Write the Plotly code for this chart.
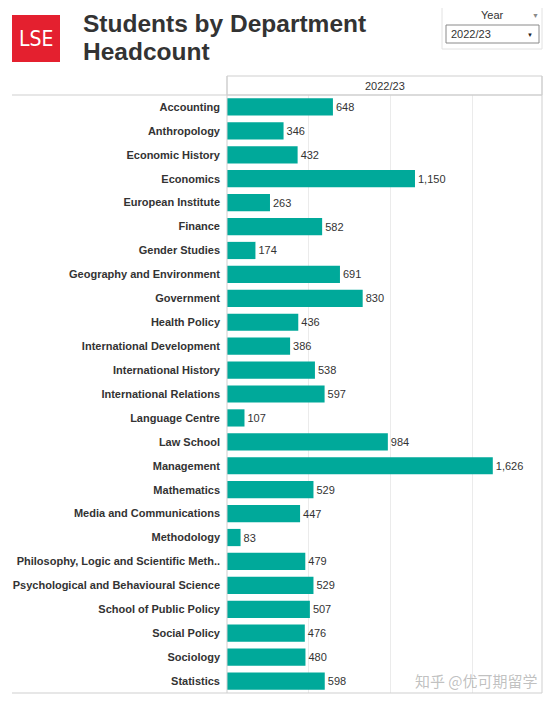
"""
LSE students by department headcount, 2022/23 - recreated in plotly.
"""

import plotly.graph_objects as go

# Data
departments = [
    "Accounting", "Anthropology", "Economic History", "Economics",
    "European Institute", "Finance", "Gender Studies",
    "Geography and Environment", "Government", "Health Policy",
    "International Development", "International History",
    "International Relations", "Language Centre", "Law School",
    "Management", "Mathematics", "Media and Communications",
    "Methodology", "Philosophy, Logic and Scientific Meth..",
    "Psychological and Behavioural Science", "School of Public Policy",
    "Social Policy", "Sociology", "Statistics",
]
headcount = [
    648, 346, 432, 1150, 263, 582, 174, 691, 830, 436, 386, 538, 597,
    107, 984, 1626, 529, 447, 83, 479, 529, 507, 476, 480, 598,
]
year_label = "2022/23"

# Page geometry (pixels of the window); the html body adds an 8px margin
# on every side, so the figure itself is 16px smaller than the window
BODY = 8
W, H = 554 - 2 * BODY, 703 - 2 * BODY
PLOT_L, PLOT_R = 227 - BODY, 542 - BODY
PLOT_T, PLOT_B = 95 - BODY, 693 - BODY

colors = {
    'bar': '#00A99A',
    'text': '#333333',
    'grid': '#ebebeb',
    'rule': '#cfcfcf',
    'lse': '#E4202F',
}


def px_x(p):
    """Window pixel x -> paper x."""
    return (p - BODY - PLOT_L) / (PLOT_R - PLOT_L)


def px_y(p):
    """Window pixel y (from top) -> paper y."""
    return (PLOT_B - (p - BODY)) / (PLOT_B - PLOT_T)


fig = go.Figure(go.Bar(
    x=headcount,
    y=departments,
    orientation='h',
    marker=dict(color=colors['bar'], line=dict(width=0)),
    text=headcount,
    texttemplate="%{x:,}",
    textposition='outside',
    cliponaxis=False,
    textfont=dict(family="Liberation Sans, Arial", size=11, color=colors['text']),
    hoverinfo='skip',
))

fig.update_layout(
    width=W,
    height=H,
    margin=dict(l=PLOT_L, r=W - PLOT_R, t=PLOT_T, b=H - PLOT_B, pad=0),
    paper_bgcolor='white',
    plot_bgcolor='white',
    bargap=0.28,
    showlegend=False,
    font=dict(family="Liberation Sans, Arial", color=colors['text']),
)

fig.update_xaxes(
    range=[0, 1927],
    dtick=500,
    showgrid=True,
    gridcolor=colors['grid'],
    gridwidth=1,
    zeroline=False,
    showticklabels=False,
    showline=False,
    fixedrange=True,
)

fig.update_yaxes(
    autorange='reversed',
    showgrid=False,
    showline=False,
    ticks='',
    ticklabelstandoff=6,
    tickfont=dict(family="Liberation Sans, Arial", size=11,
                  color=colors['text'], weight='bold'),
    fixedrange=True,
)

rule = dict(color=colors['rule'], width=1)
shapes = [
    # header band box
    dict(type='rect', xref='paper', yref='paper',
         x0=0, x1=1, y0=px_y(95), y1=px_y(76), line=rule),
    # left and right edges of the panel
    dict(type='line', xref='paper', yref='paper',
         x0=0, x1=0, y0=0, y1=px_y(76), line=rule),
    dict(type='line', xref='paper', yref='paper',
         x0=1, x1=1, y0=0, y1=px_y(76), line=rule),
    # long rules across the label column
    dict(type='line', xref='paper', yref='paper',
         x0=px_x(12), x1=1, y0=1, y1=1, line=rule),
    dict(type='line', xref='paper', yref='paper',
         x0=px_x(12), x1=1, y0=0, y1=0, line=rule),
    # LSE logo
    dict(type='rect', xref='paper', yref='paper',
         x0=px_x(12), x1=px_x(60), y0=px_y(62), y1=px_y(15),
         fillcolor=colors['lse'], line=dict(width=0)),
    # year filter boxes
    dict(type='rect', xref='paper', yref='paper',
         x0=px_x(442), x1=px_x(542), y0=px_y(49), y1=px_y(7),
         line=dict(color='#e2e2e2', width=1)),
    dict(type='rect', xref='paper', yref='paper',
         x0=px_x(446), x1=px_x(539), y0=px_y(43), y1=px_y(25),
         line=dict(color='#8a8a8a', width=1)),
]

title_font = dict(family="Liberation Sans, Arial", size=24.5, color=colors['text'])
annotations = [
    dict(text="<b>Students by Department</b>",
         xref='paper', yref='paper', x=px_x(81), y=px_y(23),
         xanchor='left', yanchor='middle', showarrow=False, font=title_font),
    dict(text="<b>Headcount</b>",
         xref='paper', yref='paper', x=px_x(81), y=px_y(52),
         xanchor='left', yanchor='middle', showarrow=False, font=title_font),
    dict(text="LSE", xref='paper', yref='paper',
         x=px_x(36), y=px_y(39), xanchor='center', yanchor='middle',
         showarrow=False,
         font=dict(family="Liberation Sans Narrow, DejaVu Sans Condensed, Liberation Sans",
                   size=21, color='white')),
    dict(text=year_label, xref='paper', yref='paper',
         x=0.5, y=px_y(86), xanchor='center', yanchor='middle',
         showarrow=False,
         font=dict(family="Liberation Sans, Arial", size=11, color=colors['text'])),
    dict(text="Year", xref='paper', yref='paper',
         x=px_x(492), y=px_y(15), xanchor='center', yanchor='middle',
         showarrow=False,
         font=dict(family="Liberation Sans, Arial", size=11, color=colors['text'])),
    dict(text="▼", xref='paper', yref='paper',
         x=px_x(535), y=px_y(16), xanchor='center', yanchor='middle',
         showarrow=False, font=dict(size=7, color='#8a8a8a')),
    dict(text=year_label, xref='paper', yref='paper',
         x=px_x(449), y=px_y(34), xanchor='left', yanchor='middle',
         showarrow=False,
         font=dict(family="Liberation Sans, Arial", size=11, color=colors['text'])),
    dict(text="▼", xref='paper', yref='paper',
         x=px_x(530), y=px_y(35), xanchor='center', yanchor='middle',
         showarrow=False, font=dict(size=6, color='#222222')),
    # watermark
    dict(text="知乎 @优可期留学", xref='paper', yref='paper',
         x=px_x(540), y=px_y(680), xanchor='right', yanchor='middle',
         showarrow=False,
         font=dict(family="Noto Sans CJK SC", size=15,
                   color='rgba(140,140,140,0.55)')),
]

fig.update_layout(shapes=shapes, annotations=annotations)

fig.write_html("out.html")
